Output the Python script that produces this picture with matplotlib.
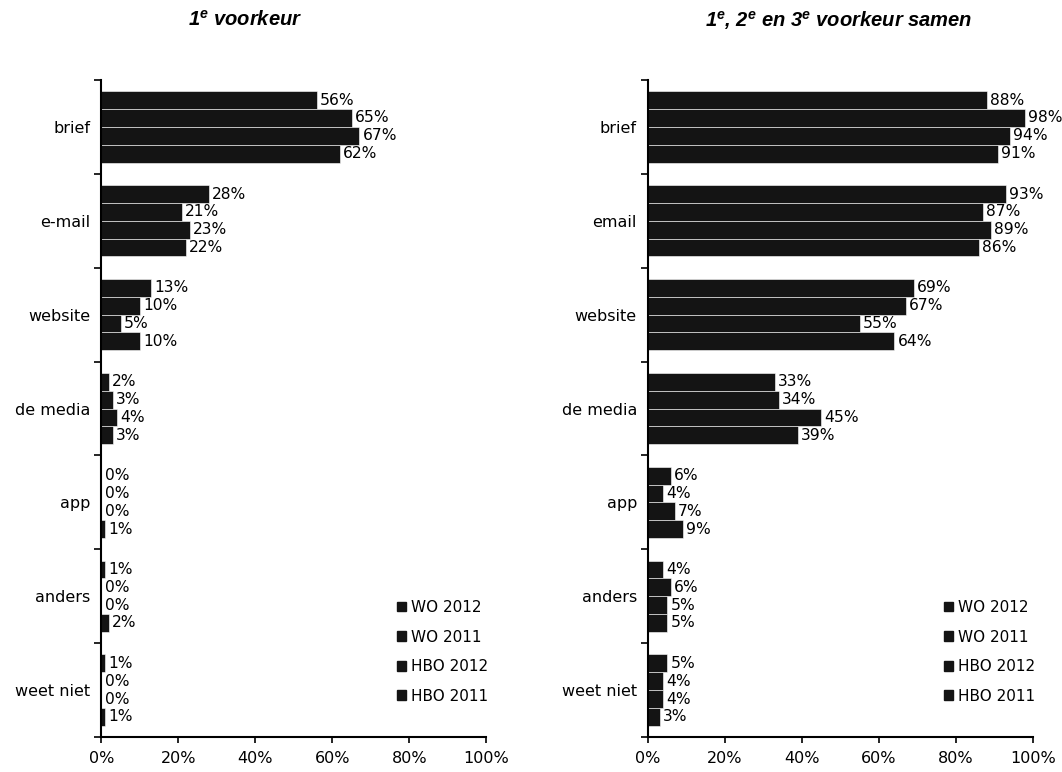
import numpy as np
import matplotlib
matplotlib.use("Agg")
import matplotlib.pyplot as plt
from matplotlib.ticker import FixedLocator, PercentFormatter
from matplotlib.patches import Patch

plt.rcParams['font.family'] = ['DejaVu Sans']

series = ['WO 2012', 'WO 2011', 'HBO 2012', 'HBO 2011']

cats_left = ['brief', 'e-mail', 'website', 'de media', 'app', 'anders', 'weet niet']
left_vals = [
    [56, 28, 13, 2, 0, 1, 1],   # WO 2012
    [65, 21, 10, 3, 0, 0, 0],   # WO 2011
    [67, 23, 5, 4, 0, 0, 0],    # HBO 2012
    [62, 22, 10, 3, 1, 2, 1],   # HBO 2011
]

cats_right = ['brief', 'email', 'website', 'de media', 'app', 'anders', 'weet niet']
right_vals = [
    [88, 93, 69, 33, 6, 4, 5],
    [98, 87, 67, 34, 4, 6, 4],
    [94, 89, 55, 45, 7, 5, 4],
    [91, 86, 64, 39, 9, 5, 3],
]

bar_col = '#141414'

fig = plt.figure(figsize=(10.62, 7.72), dpi=100)
ax1 = fig.add_axes([0.0955, 0.0453, 0.3625, 0.8511])
ax2 = fig.add_axes([0.6102, 0.0453, 0.3625, 0.8511])


def draw(ax, cats, vals):
    n = len(cats)
    y = np.arange(n)
    h = 0.19
    offs = [-1.5 * h, -0.5 * h, 0.5 * h, 1.5 * h]
    for k in range(4):
        ax.barh(y + offs[k], vals[k], height=h, color=bar_col,
                edgecolor='white', linewidth=0.4, label=series[k])
        for i in range(n):
            ax.text(vals[k][i] + 0.8, y[i] + offs[k], '%d%%' % vals[k][i],
                    va='center', ha='left', fontsize=11.2)
    ax.set_ylim(n - 0.5, -0.5)
    ax.set_xlim(0, 100)
    ax.set_yticks(y)
    ax.set_yticklabels(cats, fontsize=11.5)
    ax.yaxis.set_minor_locator(FixedLocator(np.arange(n + 1) - 0.5))
    ax.tick_params(axis='y', which='major', length=0, pad=8)
    ax.tick_params(axis='y', which='minor', length=5, width=1.2, direction='out')
    ax.set_xticks([0, 20, 40, 60, 80, 100])
    ax.xaxis.set_major_formatter(PercentFormatter(decimals=0))
    ax.tick_params(axis='x', length=4, width=1.2, labelsize=11.5, pad=6)
    for s in ['top', 'right']:
        ax.spines[s].set_visible(False)
    ax.spines['left'].set_linewidth(1.5)
    ax.spines['bottom'].set_linewidth(1.5)
    handles = [Patch(facecolor=bar_col, edgecolor=bar_col) for _ in series]
    ax.legend(handles, series, loc='lower right', bbox_to_anchor=(1.04, 0.03),
              frameon=False, fontsize=11, handlelength=0.6, handleheight=0.6,
              handletextpad=0.3, labelspacing=0.95)


draw(ax1, cats_left, left_vals)
draw(ax2, cats_right, right_vals)

fig.text(0.231, 0.974, r'1$^{\mathregular{e}}$ voorkeur', ha='center', va='center',
         fontsize=14.5, fontweight='bold', style='italic', family='Liberation Sans')
fig.text(0.79, 0.974,
         r'1$^{\mathregular{e}}$, 2$^{\mathregular{e}}$ en 3$^{\mathregular{e}}$ voorkeur samen',
         ha='center', va='center', fontsize=14.5, fontweight='bold', style='italic',
         family='Liberation Sans')

fig.savefig('out.png', dpi=100)
